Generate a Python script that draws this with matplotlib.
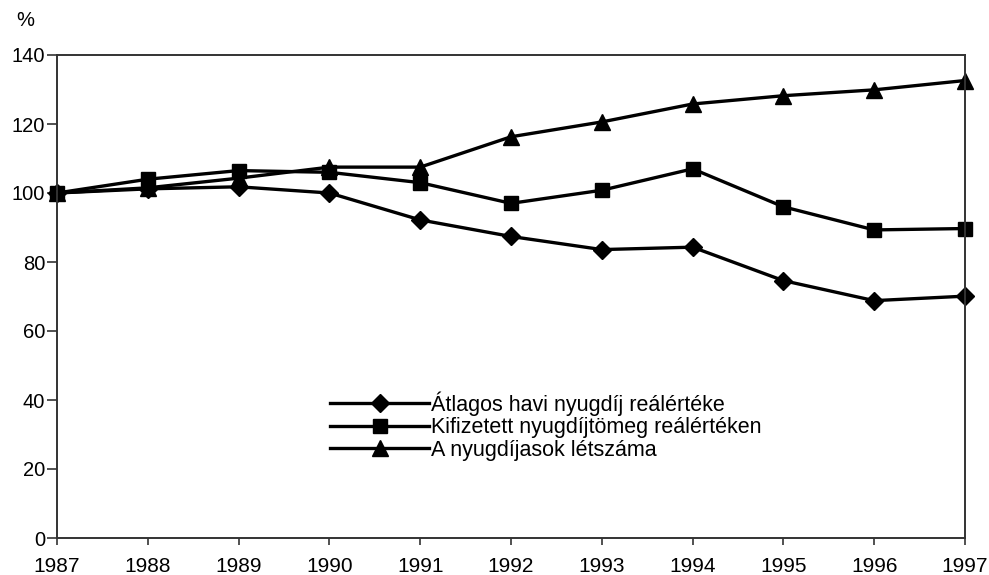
import matplotlib
matplotlib.use("Agg")
import matplotlib.pyplot as plt

years = [1987, 1988, 1989, 1990, 1991, 1992, 1993, 1994, 1995, 1996, 1997]
atlagos = [100, 101.2, 101.8, 100, 92.2, 87.4, 83.6, 84.3, 74.6, 68.8, 70.1]
kifizetett = [100, 104, 106.5, 106, 103, 97, 100.8, 107, 96, 89.3, 89.7]
letszam = [100, 101.5, 104.3, 107.5, 107.5, 116.3, 120.6, 125.8, 128.2, 129.9, 132.6]
labels = ["Átlagos havi nyugdíj reálértéke",
          "Kifizetett nyugdíjtömeg reálértéken",
          "A nyugdíjasok létszáma"]
yticks = [0, 20, 40, 60, 80, 100, 120, 140]

plt.rcParams['font.family'] = ['Liberation Sans', 'DejaVu Sans']
fig = plt.figure(figsize=(9.89, 5.75), dpi=100)
ax = fig.add_axes([57/989, 1-538/575, (965-57)/989, (538-55)/575])

ax.plot(years, atlagos, color='black', lw=2.4, marker='D', ms=9.5, label=labels[0])
ax.plot(years, kifizetett, color='black', lw=2.4, marker='s', ms=9.5, label=labels[1])
ax.plot(years, letszam, color='black', lw=2.4, marker='^', ms=11, label=labels[2])

ax.set_xlim(1987, 1997)
ax.set_ylim(0, 140)
ax.set_xticks(years)
ax.set_yticks(yticks)
ax.tick_params(axis='x', direction='out', length=5, width=1.2, labelsize=15, pad=8.5, color='#333333')
ax.tick_params(axis='y', direction='out', length=7.5, width=1.2, labelsize=14.5, pad=1, color='#333333')
for s in ax.spines.values():
    s.set_linewidth(1.4)
    s.set_color('#333333')
for l in ax.lines:
    l.set_clip_on(False)

fig.text(16/989, 1-20/575, "%", fontsize=14.5, ha='left', va='center')

leg = ax.legend(loc='center left', bbox_to_anchor=(273/908, (538-426)/483), frameon=False,
                fontsize=15.5, handlelength=4.6, handletextpad=0.1, labelspacing=0.07,
                borderpad=0, borderaxespad=0)

fig.savefig("out.png", dpi=100)
